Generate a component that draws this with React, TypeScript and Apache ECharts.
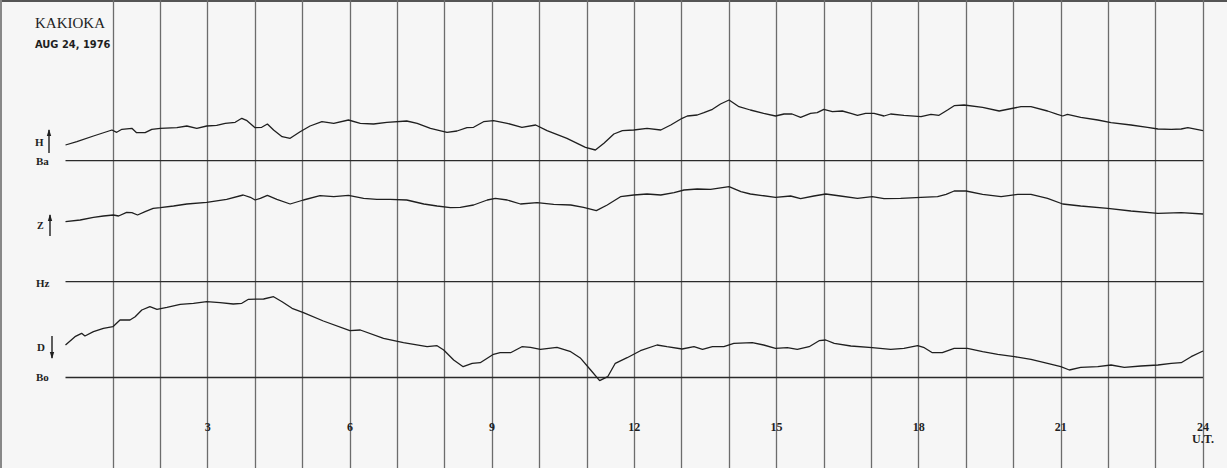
import React, { useEffect, useRef } from "react";
import * as echarts from "echarts";

// ---- Data (hours U.T., deflection in chart units above each trace's baseline) ----
const TITLE = "KAKIOKA";
const DATE_LABEL = "AUG 24, 1976";
const TICK_LABELS = [3, 6, 9, 12, 15, 18, 21, 24];
const BASELINE_NAMES = ["Ba", "Hz", "Bo"];
const BASELINE_LEVELS = [307.3, 186.3, 90.5];

const H_TRACE: [number, number][] = [
  [0, 15.7], [0.24, 19], [0.59, 24.7], [0.98, 30.7], [1.08, 28.4], [1.19, 31.4], [1.4, 32.4],
  [1.5, 28], [1.68, 28], [1.82, 31.4], [2.0, 32.4], [2.35, 33], [2.56, 34.7], [2.77, 32.4],
  [2.98, 34.7], [3.19, 35.4], [3.37, 37.4], [3.58, 38.4], [3.72, 42.4], [3.83, 40], [4.0, 33],
  [4.14, 33.4], [4.26, 36.7], [4.39, 30.7], [4.57, 24], [4.74, 22.4], [4.95, 29], [5.16, 34.7],
  [5.41, 39], [5.66, 37.4], [5.97, 40.7], [6.22, 37.4], [6.5, 36.7], [6.78, 38.4], [7.2, 39.7],
  [7.42, 37.4], [7.7, 32.4], [8.05, 28.4], [8.26, 29.7], [8.47, 33], [8.61, 33.4], [8.82, 39],
  [9.03, 40], [9.32, 37.4], [9.63, 33.4], [9.92, 35.7], [10.16, 30], [10.58, 22.4], [10.97, 13.4],
  [11.18, 10.7], [11.36, 17.4], [11.57, 26.7], [11.75, 30], [11.99, 30.7], [12.27, 32.4],
  [12.56, 30.7], [12.77, 35.7], [13.01, 42.4], [13.12, 44.7], [13.33, 45.7], [13.47, 48],
  [13.65, 51.4], [13.82, 56.7], [14.0, 60.7], [14.21, 54], [14.45, 50.7], [14.73, 47.4],
  [14.98, 44.7], [15.16, 46.7], [15.33, 46.7], [15.51, 43.4], [15.72, 47.4], [15.86, 48],
  [16.0, 51.4], [16.18, 49], [16.39, 49.7], [16.57, 47.4], [16.71, 45.4], [16.88, 47.4],
  [17.06, 47.4], [17.27, 44.7], [17.41, 46.7], [17.69, 45.4], [18.05, 44], [18.26, 46.4],
  [18.43, 45.4], [18.61, 50.7], [18.75, 55], [18.96, 55.7], [19.35, 53.4], [19.7, 49.7],
  [19.91, 51.7], [20.16, 54], [20.37, 54], [20.72, 49.7], [20.93, 46.4], [21.04, 44.7],
  [21.14, 46.4], [21.42, 43.4], [21.78, 40.7], [22.06, 38], [22.48, 35.7], [22.83, 33.4],
  [23.05, 31.7], [23.33, 31.4], [23.54, 31.7], [23.68, 33], [24.0, 30]
];

const Z_TRACE: [number, number][] = [
  [0, 60], [0.31, 61.7], [0.59, 64.4], [0.8, 65.7], [1.01, 66.7], [1.12, 65.7], [1.29, 69.4],
  [1.4, 69], [1.52, 66.7], [1.68, 70], [1.85, 73.4], [2.0, 74], [2.28, 75.7], [2.56, 77.7],
  [2.98, 79.4], [3.4, 82.4], [3.75, 86.7], [3.9, 84.4], [4.0, 81.7], [4.11, 83.4], [4.26, 86.4],
  [4.46, 82.4], [4.74, 77.7], [5.02, 81.7], [5.37, 86], [5.66, 85], [5.97, 86.4], [6.29, 83.4],
  [6.57, 82.4], [6.85, 82.4], [7.2, 81.7], [7.56, 77.7], [7.84, 75.7], [8.12, 74], [8.33, 74.4],
  [8.61, 76.7], [8.9, 81.7], [9.07, 83.4], [9.32, 81.7], [9.6, 77.7], [9.95, 79], [10.3, 77.4],
  [10.66, 76.7], [10.93, 74.4], [11.2, 71], [11.43, 76.7], [11.71, 85], [11.99, 86.7],
  [12.27, 87.7], [12.56, 86.7], [12.84, 89], [13.05, 91.7], [13.33, 92.7], [13.61, 92.4],
  [14.0, 95], [14.25, 90], [14.45, 87.7], [14.98, 84.4], [15.3, 85.7], [15.51, 83], [15.79, 85.7],
  [16.04, 87.7], [16.35, 85.7], [16.71, 83.4], [17.02, 85], [17.27, 83], [17.62, 83.4],
  [18.05, 84.4], [18.4, 85], [18.58, 87.4], [18.75, 90.7], [19.0, 90.7], [19.35, 87.4],
  [19.74, 85], [20.09, 87.4], [20.37, 87.4], [20.72, 83.4], [21.04, 77.7], [21.42, 75.7],
  [21.99, 73.4], [22.48, 70.7], [23.05, 68.4], [23.54, 69], [24, 67.7]
];

const D_TRACE: [number, number][] = [
  [0, 32.5], [0.2, 40.8], [0.34, 44.2], [0.41, 41.5], [0.59, 45.8], [0.8, 49.2], [1.0, 50.8],
  [1.15, 57.5], [1.36, 57.5], [1.47, 60.8], [1.61, 67.5], [1.78, 70.8], [1.93, 68.2], [2.14, 70.2],
  [2.42, 73.2], [2.7, 74.2], [2.98, 75.8], [3.26, 74.8], [3.54, 73.5], [3.72, 74.2], [3.86, 78.2],
  [4.18, 78.5], [4.39, 80.8], [4.57, 75.8], [4.78, 69.2], [5.02, 64.8], [5.44, 56.5], [6.0, 46.8],
  [6.22, 47.5], [6.71, 39.2], [7.13, 34.8], [7.63, 30.8], [7.84, 31.8], [7.98, 27.5], [8.19, 17.5],
  [8.39, 10.8], [8.58, 14.2], [8.75, 14.8], [9.03, 23.2], [9.17, 24.8], [9.39, 24.8], [9.63, 30.8],
  [9.81, 30.2], [10.02, 28.2], [10.37, 30.2], [10.66, 25.8], [10.87, 19.2], [11.08, 7.5],
  [11.27, -3.2], [11.44, 0.8], [11.6, 14.2], [11.85, 19.8], [12.13, 26.8], [12.48, 32.5],
  [12.69, 30.8], [13.01, 28.5], [13.26, 30.8], [13.44, 28.2], [13.65, 30.8], [13.89, 30.8],
  [14.1, 34.2], [14.49, 34.8], [14.73, 32.5], [14.98, 29.2], [15.23, 29.8], [15.44, 28.2],
  [15.69, 30.8], [15.9, 36.8], [16.04, 37.5], [16.22, 34.2], [16.57, 31.5], [17.02, 29.8],
  [17.41, 28.2], [17.69, 29.2], [17.98, 31.8], [18.12, 29.8], [18.29, 24.8], [18.5, 24.8],
  [18.75, 29.2], [19.03, 29.2], [19.35, 25.8], [19.67, 23.2], [20.02, 20.8], [20.37, 18.2],
  [20.72, 14.2], [21.0, 10.8], [21.18, 7.5], [21.42, 10.2], [21.78, 10.8], [22.06, 12.5],
  [22.34, 10.2], [22.69, 11.5], [23.05, 12.5], [23.33, 14.2], [23.54, 14.8], [23.75, 20.8],
  [24, 26.5]
];

const TRACES = [
  { name: "H", data: H_TRACE, base: 0 },
  { name: "Z", data: Z_TRACE, base: 1 },
  { name: "D", data: D_TRACE, base: 2 }
];

const W = 1227;
const HGT = 468;
const INK = "#1f1f1f";
const SERIF = "'Liberation Serif', 'DejaVu Serif', serif";

export default function App() {
  const ref = useRef<HTMLDivElement>(null);

  useEffect(() => {
    if (!ref.current) return;
    const chart = echarts.init(ref.current, undefined, { renderer: "svg" });

    const series: any[] = [];
    BASELINE_LEVELS.forEach((lvl, i) => {
      series.push({
        type: "line",
        name: BASELINE_NAMES[i],
        data: [[0, lvl], [24, lvl]],
        showSymbol: false,
        silent: true,
        lineStyle: { color: "#2a2a2a", width: 1.3 },
        z: 3
      });
    });
    TRACES.forEach((t) => {
      const base = BASELINE_LEVELS[t.base];
      series.push({
        type: "line",
        name: t.name,
        data: t.data.map(([h, d]) => [h, base + d]),
        showSymbol: false,
        silent: true,
        lineStyle: { color: INK, width: 1.3 },
        z: 4
      });
    });

    const arrowUp = (x: number, y1: number, y2: number) => [
      { type: "line", shape: { x1: x, y1: y1, x2: x, y2: y2 }, style: { stroke: INK, lineWidth: 1.4 } },
      { type: "polygon", shape: { points: [[x, y1 - 1], [x - 2.2, y1 + 6], [x + 2.2, y1 + 6]] }, style: { fill: INK } }
    ];
    const arrowDown = (x: number, y1: number, y2: number) => [
      { type: "line", shape: { x1: x, y1: y1, x2: x, y2: y2 }, style: { stroke: INK, lineWidth: 1.4 } },
      { type: "polygon", shape: { points: [[x, y2 + 1], [x - 2.2, y2 - 6], [x + 2.2, y2 - 6]] }, style: { fill: INK } }
    ];
    const label = (text: string, left: number, top: number, size = 11) => ({
      type: "text",
      left,
      top,
      style: { text, fill: INK, font: `bold ${size}px ${SERIF}` }
    });

    chart.setOption({
      animation: false,
      backgroundColor: "#f6f6f6",
      grid: { left: 65.5, right: W - 1203, top: 0, bottom: 0, containLabel: false },
      xAxis: {
        type: "value",
        min: 0,
        max: 24,
        interval: 1,
        axisLine: { show: false },
        axisTick: { show: false },
        splitLine: { show: true, showMinLine: false, lineStyle: { color: "#6c6c6c", width: 1.3 } },
        axisLabel: {
          show: true,
          showMaxLabel: true,
          margin: -47,
          formatter: (v: number) => (TICK_LABELS.includes(v) ? (v === 24 ? "24\nU.T." : String(v)) : ""),
          color: INK,
          fontFamily: SERIF,
          fontWeight: "bold",
          fontSize: 12,
          lineHeight: 12
        }
      },
      yAxis: {
        type: "value",
        min: 0,
        max: HGT,
        show: false,
        splitLine: { show: false }
      },
      series,
      graphic: [
        { type: "rect", shape: { x: 0, y: 0, width: W, height: 2 }, style: { fill: "#555" }, silent: true },
        { type: "rect", shape: { x: 0, y: 0, width: 2, height: HGT }, style: { fill: "#888" }, silent: true },
        {
          type: "text",
          left: 35,
          top: 15,
          style: { text: TITLE, fill: INK, font: `15px ${SERIF}` }
        },
        {
          type: "text",
          left: 35,
          top: 39,
          style: { text: DATE_LABEL, fill: INK, font: `bold 11px 'DejaVu Sans Condensed', 'Liberation Sans', sans-serif` }
        },
        label("H", 35, 136),
        ...arrowUp(49, 130, 153),
        label(BASELINE_NAMES[0], 36, 155),
        label("Z", 37, 220, 10),
        ...arrowUp(50, 215, 236),
        label(BASELINE_NAMES[1], 36, 277),
        label("D", 37, 341),
        ...arrowDown(52, 336, 358),
        label(BASELINE_NAMES[2], 36, 371)
      ]
    });

    return () => chart.dispose();
  }, []);

  return (
    <div
      ref={ref}
      style={{ position: "absolute", left: 0, top: 0, width: W, height: HGT }}
    />
  );
}
